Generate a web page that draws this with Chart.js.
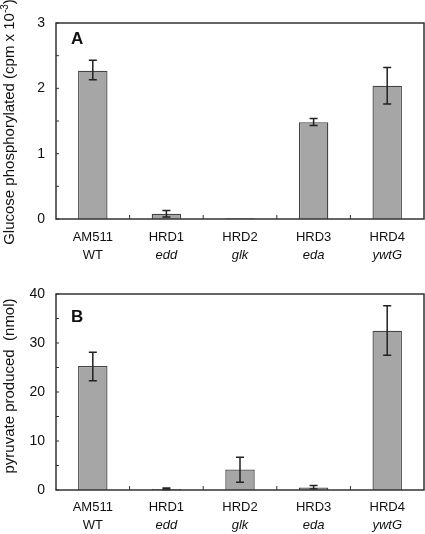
<!DOCTYPE html>
<html>
<head>
<meta charset="utf-8">
<script src="https://cdn.jsdelivr.net/npm/chart.js@4"></script>
<style>
  html, body { margin: 0; padding: 0; background: #fff; }
  #wrap { position: relative; width: 425px; height: 534px; }
  .panel { position: absolute; left: 0; width: 425px; }
  #boxA { top: 0; height: 262px; }
  #boxB { top: 262px; height: 272px; }
</style>
</head>
<body>
<div id="wrap">
  <div class="panel" id="boxA"><canvas id="chartA"></canvas></div>
  <div class="panel" id="boxB"><canvas id="chartB"></canvas></div>
</div>
<script>
// strains and their mutated gene
const strains = ['AM511', 'HRD1', 'HRD2', 'HRD3', 'HRD4']
const genes = ['WT', 'edd', 'glk', 'eda', 'ywtG']

// panel A: glucose phosphorylated (cpm x 10^-3)
const glucose = [2.27, 0.08, 0.01, 1.48, 2.04]
const glucoseLow = [2.13, 0.03, 0.01, 1.43, 1.76]
const glucoseHigh = [2.43, 0.13, 0.01, 1.54, 2.32]

// panel B: pyruvate produced (nmol)
const pyruvate = [25.3, 0.2, 4.2, 0.5, 32.5]
const pyruvateLow = [22.3, 0.1, 1.6, 0.2, 27.5]
const pyruvateHigh = [28.1, 0.4, 6.7, 0.9, 37.6]

const FONT = 'Arial, "Liberation Sans", sans-serif'
const INK = '#111'

// frame, inward ticks, error bars, category labels, axis title, panel letter
const decorations = {
  id: 'decorations',
  afterDatasetsDraw(chart, args, opts) {
    const ctx = chart.ctx
    const area = chart.chartArea
    const x = chart.scales.x
    const y = chart.scales.y
    ctx.save()

    // error bars
    ctx.strokeStyle = '#222'
    ctx.lineWidth = 1.5
    opts.low.forEach((lo, i) => {
      const px = x.getPixelForValue(i)
      const yl = y.getPixelForValue(lo)
      const yh = y.getPixelForValue(opts.high[i])
      if (Math.abs(yl - yh) < 0.5) return
      ctx.beginPath()
      ctx.moveTo(px, yl); ctx.lineTo(px, yh)
      ctx.moveTo(px - 4, yl); ctx.lineTo(px + 4, yl)
      ctx.moveTo(px - 4, yh); ctx.lineTo(px + 4, yh)
      ctx.stroke()
    })

    // frame
    ctx.strokeStyle = '#333'
    ctx.lineWidth = 1.5
    ctx.strokeRect(area.left, area.top, area.right - area.left, area.bottom - area.top)

    // inward ticks on the value axis
    ctx.lineWidth = 1
    y.ticks.forEach(t => {
      const py = y.getPixelForValue(t.value)
      ctx.beginPath()
      ctx.moveTo(area.left, py); ctx.lineTo(area.left + 3, py)
      ctx.stroke()
    })
    // inward ticks between categories
    for (let i = 1; i < strains.length; i++) {
      const px = (x.getPixelForValue(i - 1) + x.getPixelForValue(i)) / 2
      ctx.beginPath()
      ctx.moveTo(px, area.bottom); ctx.lineTo(px, area.bottom - 4)
      ctx.stroke()
    }

    // category labels, gene names in italics
    ctx.fillStyle = INK
    ctx.textAlign = 'center'
    ctx.textBaseline = 'middle'
    strains.forEach((s, i) => {
      const px = x.getPixelForValue(i)
      ctx.font = '13px ' + FONT
      ctx.fillText(s, px, area.bottom + opts.line1)
      ctx.font = (i === 0 ? '' : 'italic ') + '13px ' + FONT
      ctx.fillText(genes[i], px, area.bottom + opts.line2)
    })

    // panel letter
    ctx.font = 'bold 17px ' + FONT
    ctx.textAlign = 'left'
    ctx.textBaseline = 'alphabetic'
    ctx.fillText(opts.letter, 71, opts.letterY)

    // rotated axis title
    ctx.translate(10, opts.titleY)
    ctx.rotate(-Math.PI / 2)
    ctx.textBaseline = 'middle'
    ctx.font = '15px ' + FONT
    const w1 = ctx.measureText(opts.title).width
    let w2 = 0, w3 = 0
    if (opts.sup) {
      ctx.font = '10px ' + FONT
      w2 = ctx.measureText(opts.sup).width
      ctx.font = '15px ' + FONT
      w3 = ctx.measureText(opts.tail).width
    }
    const start = -(w1 + w2 + w3) / 2
    ctx.textAlign = 'left'
    ctx.fillText(opts.title, start, 0)
    if (opts.sup) {
      ctx.font = '10px ' + FONT
      ctx.fillText(opts.sup, start + w1, -5)
      ctx.font = '15px ' + FONT
      ctx.fillText(opts.tail, start + w1 + w2, 0)
    }
    ctx.restore()
  }
}

function makeChart(id, values, low, high, max, step, padTop, padBottom, deco) {
  return new Chart(document.getElementById(id), {
    type: 'bar',
    data: {
      labels: strains,
      datasets: [{
        data: values,
        backgroundColor: '#a6a6a6',
        borderColor: '#444',
        borderWidth: 1.3,
        categoryPercentage: 1,
        barPercentage: 0.4
      }]
    },
    options: {
      responsive: true,
      maintainAspectRatio: false,
      animation: false,
      layout: { padding: { top: padTop, bottom: padBottom, left: 0, right: 1 } },
      plugins: {
        legend: { display: false },
        tooltip: { enabled: false },
        decorations: Object.assign({ low: low, high: high }, deco)
      },
      scales: {
        x: {
          ticks: { display: false },
          grid: { display: false },
          border: { display: false },
          afterFit: s => { s.height = 0 }
        },
        y: {
          min: 0,
          max: max,
          ticks: {
            stepSize: step,
            padding: 11,
            color: INK,
            font: { family: FONT, size: 14 },
            callback: v => (Math.abs(v % (step * 2)) < 1e-9 ? v : '')
          },
          grid: { display: false, drawTicks: false },
          border: { display: false },
          afterFit: s => { s.width = 56 }
        }
      }
    },
    plugins: [decorations]
  })
}

makeChart('chartA', glucose, glucoseLow, glucoseHigh, 3, 0.5, 23, 43, {
  letter: 'A', letterY: 44, line1: 18, line2: 36,
  title: 'Glucose phosphorylated (cpm x 10', sup: '-3', tail: ')', titleY: 122
})

makeChart('chartB', pyruvate, pyruvateLow, pyruvateHigh, 40, 5, 32, 44, {
  letter: 'B', letterY: 60, line1: 17, line2: 35,
  title: 'pyruvate produced  (nmol)', titleY: 124
})
</script>
</body>
</html>
